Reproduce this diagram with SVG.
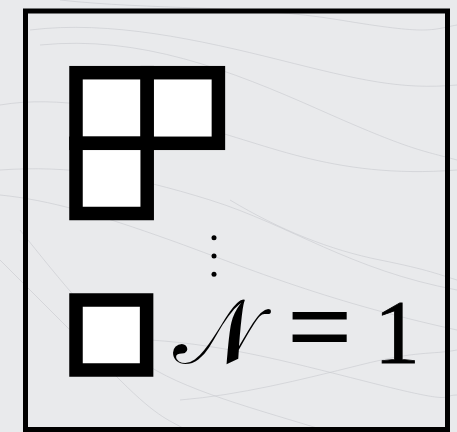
<svg xmlns="http://www.w3.org/2000/svg" width="457" height="432" viewBox="0 0 457 432">
  <style>
    .bg { fill: #e9eaec; }
    .wave { fill: none; stroke: #c9cbcf; stroke-width: 0.8; opacity: 0.8; }
    .frame { fill: none; stroke: #000; stroke-width: 5; }
    .cell { fill: #fff; stroke: #000; stroke-width: 13.5; }
    .dot { fill: #000; }
    .math { font-family: "Liberation Serif", "DejaVu Serif", serif; fill: #000; }
  </style>
  <rect class="bg" x="0" y="0" width="457" height="432"/>
  <g id="texture">
    <path class="wave" d="M0,105 C60,95 120,110 190,125 S330,180 457,170"/>
    <path class="wave" d="M0,170 C70,165 130,175 210,200 S350,270 457,290"/>
    <path class="wave" d="M0,195 C50,200 100,215 170,240 S320,300 457,330"/>
    <path class="wave" d="M30,30 C110,20 200,40 280,60 S400,90 457,85"/>
    <path class="wave" d="M40,45 C140,35 230,70 320,110 S420,150 457,160"/>
    <path class="wave" d="M0,260 C40,300 80,340 120,380 S170,420 190,432"/>
    <path class="wave" d="M20,230 C60,280 100,330 140,360 S260,410 330,432"/>
    <path class="wave" d="M180,400 C240,395 300,380 360,365 S430,355 457,350"/>
    <path class="wave" d="M150,340 C230,345 300,365 380,385 S440,395 457,395"/>
    <path class="wave" d="M60,0 C150,10 250,5 340,20 S430,30 457,25"/>
    <path class="wave" d="M230,200 C280,230 330,250 380,260 S440,275 457,280"/>
  </g>
  <g id="frame">
    <rect class="frame" x="25.5" y="11" width="422" height="418.5"/>
  </g>
  <g id="young-diagram-three">
    <rect class="cell" x="76" y="72.7" width="71.2" height="70.6"/>
    <rect class="cell" x="147.2" y="72.7" width="71.2" height="70.6"/>
    <rect class="cell" x="76" y="143.3" width="71.2" height="70.2"/>
  </g>
  <g id="vdots">
    <circle class="dot" cx="214" cy="237.7" r="2.5"/>
    <circle class="dot" cx="214" cy="256" r="2.5"/>
    <circle class="dot" cx="214" cy="274.3" r="2.5"/>
  </g>
  <g id="young-diagram-one">
    <rect class="cell" x="76" y="300" width="70.6" height="70"/>
  </g>
  <g id="label">
    <text class="math" x="173" y="363" font-size="90">𝒩</text>
    <text class="math" x="288" y="364" font-size="112" stroke="#000" stroke-width="2">=</text>
    <text class="math" x="374" y="363" font-size="92" stroke="#000" stroke-width="0.8">1</text>
  </g>
  <g id="connectors"/>
</svg>
